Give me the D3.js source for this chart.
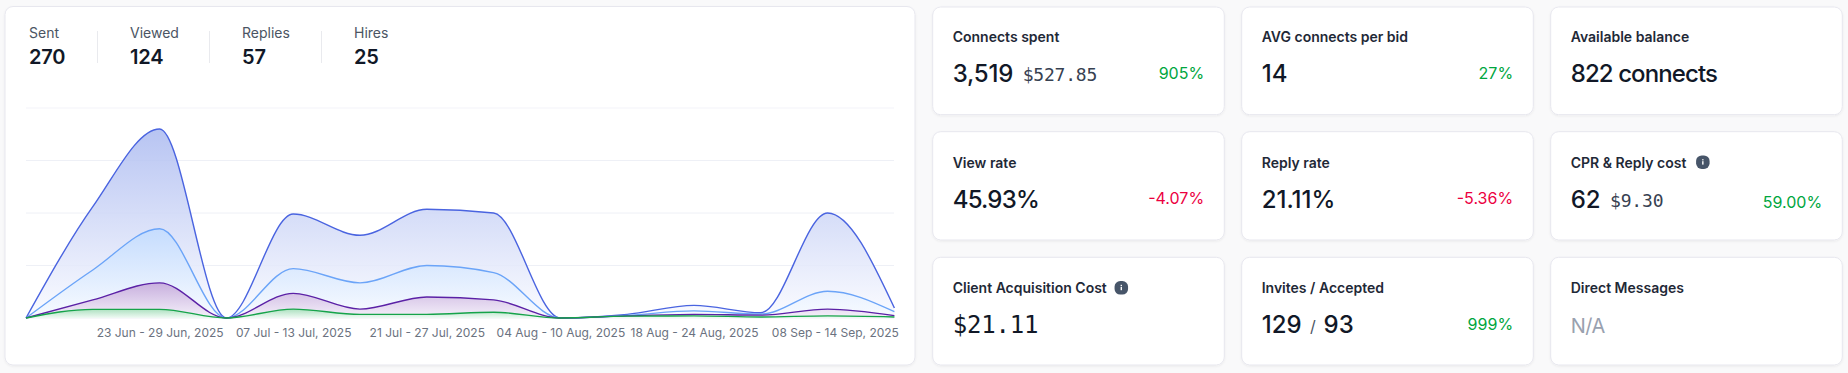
<!DOCTYPE html>
<html><head><meta charset="utf-8">
<script src="https://cdn.jsdelivr.net/npm/d3@7"></script>
<style>
html,body{margin:0;padding:0;background:#f9f9fa;overflow:hidden}
svg{display:block}
text{font-family:Inter,"Noto Sans",sans-serif}
.mono{font-family:"DejaVu Sans Mono",monospace}
</style></head><body><svg id="c" width="1848" height="373"></svg>
<script>
const weeks=["09 Jun - 15 Jun, 2025","16 Jun - 22 Jun, 2025","23 Jun - 29 Jun, 2025","30 Jun - 06 Jul, 2025","07 Jul - 13 Jul, 2025","14 Jul - 20 Jul, 2025","21 Jul - 27 Jul, 2025","28 Jul - 03 Aug, 2025","04 Aug - 10 Aug, 2025","11 Aug - 17 Aug, 2025","18 Aug - 24 Aug, 2025","25 Aug - 31 Aug, 2025","01 Sep - 07 Sep, 2025","08 Sep - 14 Sep, 2025"];
const tickWeeks=[weeks[2],weeks[4],weeks[6],weeks[8],weeks[10],weeks[13]];
const yTicks=[0,20,40,60,80];
const sent=[0,42.4,72,0,39.6,31.5,41.4,40,0,1.4,4.8,2,40,3.8];
const viewed=[0,18.3,34,0,18.8,13.4,20,17.3,0,1,2.7,1.5,10.2,2.4];
const replies=[0,6.9,13.4,0,9.4,3.4,8,6.9,0,0.8,1.4,1.1,3.4,0.9];
const hires=[0,3.3,3.3,0,3.4,1.4,1.4,2.2,0,0.7,0.8,0.4,0.8,0.4];
const seriesNames=["Sent","Viewed","Replies","Hires"];
const seriesTotals=["270","124","57","25"];
const seriesValues=[sent,viewed,replies,hires];
const seriesColors=["#4a64e0","#6ba4f8","#5b21a6","#16a34a"];
const fillTop=["#abbaf0","#c4dcfe","#c6acdc","#a8e0bc"];
const fillBottom=["#fafbff","#f8fbff","#f5f0fa","#f0faf4"];
const fillOpacity=[0.85,0.95,0.95,0.95];

const titles=["Connects spent","AVG connects per bid","Available balance","View rate","Reply rate","CPR & Reply cost","Client Acquisition Cost","Invites / Accepted","Direct Messages"];
const mainValues=["3,519","14","822 connects","45.93%","21.11%","62","$21.11","129","N/A"];
const valueTracking=[-0.2,0,-0.9,-0.8,0,0,-0.2,0,-0.5];
const subValues=["$527.85","","","","","$9.30","","",""];
const secondValues=["","","","","","","","93",""];
const deltas=["905%","27%","","-4.07%","-5.36%","59.00%","","999%",""];
const infoGaps=[0,0,0,0,0,16.5,14.5,0,0];

const svg=d3.select("#c");
const defs=svg.append("defs");
const sh=defs.append("filter").attr("id","sh").attr("x","-5%").attr("y","-5%").attr("width","110%").attr("height","115%");
sh.append("feDropShadow").attr("dx",0).attr("dy",1).attr("stdDeviation",1).attr("flood-color","#000").attr("flood-opacity",0.06);

function card(x,y,w,h){svg.append("rect").attr("x",x).attr("y",y).attr("width",w).attr("height",h).attr("rx",8)
 .attr("fill","#fff").attr("stroke","#e7e7ee").attr("stroke-width",1).attr("filter","url(#sh)");}

// main card
card(5,6.5,910,358.5);
const statX=[29,130,242,354], sepX=[97.5,209.5,321.5];
sepX.forEach(x=>svg.append("line").attr("x1",x).attr("x2",x).attr("y1",31).attr("y2",63).attr("stroke","#e9eaee"));
seriesNames.forEach((n,i)=>{
 svg.append("text").attr("x",statX[i]).attr("y",38).attr("font-size",14).attr("fill","#4b5563").text(n);
 svg.append("text").attr("x",statX[i]).attr("y",64).attr("font-size",20).attr("font-weight",600).attr("letter-spacing",-0.2).attr("fill","#111827").text(seriesTotals[i]);
});

// chart
const x=d3.scalePoint().domain(weeks).range([26,894.4]);
const y=d3.scaleLinear().domain([0,80]).range([318,108]);
svg.append("g").selectAll("line").data(yTicks).join("line")
 .attr("x1",26).attr("x2",894).attr("y1",d=>y(d)).attr("y2",d=>y(d))
 .attr("stroke",d=>d===80?"#f7f7fb":"#eef0f6").attr("stroke-width",d=>d===80?1.6:1);
const curve=d3.curveMonotoneX;
const area=d3.area().x((d,i)=>x(weeks[i])).y0(y(0)).y1(d=>y(d)).curve(curve);
const line=d3.line().x((d,i)=>x(weeks[i])).y(d=>y(d)).curve(curve);
seriesValues.forEach((vals,i)=>{
 const g=defs.append("linearGradient").attr("id","g"+i).attr("x1",0).attr("x2",0).attr("y1",0).attr("y2",1);
 g.append("stop").attr("offset",0).attr("stop-color",fillTop[i]);
 g.append("stop").attr("offset",1).attr("stop-color",fillBottom[i]);
 svg.append("path").attr("d",area(vals)).attr("fill",`url(#g${i})`).attr("fill-opacity",fillOpacity[i]);
});
seriesValues.forEach((vals,i)=>{
 svg.append("path").attr("d",line(vals)).attr("fill","none").attr("stroke",seriesColors[i]).attr("stroke-width",1.4);
});
const ax=svg.append("g").attr("transform","translate(0,318)")
 .call(d3.axisBottom(x).tickValues(tickWeeks).tickSize(0).tickPadding(8));
ax.select(".domain").remove();
ax.selectAll("text").attr("font-family","Inter").attr("font-size",12).attr("fill","#6b7280").attr("dy",0).attr("y",18.5);
ax.selectAll("g.tick").filter(d=>d===weeks[13]).select("text").attr("text-anchor","end").attr("dx",4);

// KPI cards
const colX=[932.7,1241.7,1550.7], rowY=[7,131.7,257.3];
titles.forEach((t,i)=>{
 const cx=colX[i%3], ry=rowY[Math.floor(i/3)], L=cx+20, R=cx+271.4;
 const off=i>=3&&i<6?0.6:0;
 card(cx,ry,291.6,i>=3&&i<6?108.3:107.7);
 const tt=svg.append("text").attr("x",L).attr("y",ry+35.3+off).attr("font-size",14).attr("font-weight",600).attr("fill","#1f2937").text(t);
 if(infoGaps[i]){
  const e=L+tt.node().getComputedTextLength()+infoGaps[i], cy=ry+30.5;
  svg.append("rect").attr("x",e-6.75).attr("y",cy-6.75).attr("width",13.5).attr("height",13.5).attr("rx",5.6).attr("fill","#475569");
  svg.append("rect").attr("x",e-0.7).attr("y",cy-1).attr("width",1.4).attr("height",3.4).attr("fill","#fff");
  svg.append("rect").attr("x",e-0.7).attr("y",cy-3).attr("width",1.4).attr("height",1.2).attr("fill","#fff");
 }
 const base=ry+75.3+off;
 const isMono=t==="Client Acquisition Cost", isNA=mainValues[i]==="N/A";
 const mv=svg.append("text").attr("x",L).attr("y",base).attr("font-size",isNA?20:24).attr("font-weight",isNA?400:500)
   .attr("letter-spacing",valueTracking[i]).attr("fill",isNA?"#99a1af":"#111827").classed("mono",isMono).text(mainValues[i]);
 const mw=mv.node().getComputedTextLength();
 if(subValues[i]) svg.append("text").classed("mono",true).attr("x",L+mw+9.5).attr("y",base-1).attr("font-size",18).attr("letter-spacing",-0.2).attr("fill","#374151").text(subValues[i]);
 if(secondValues[i]){
  svg.append("text").attr("x",L+mw+8.5).attr("y",base-1).attr("font-size",16).attr("fill","#4b5563").text("/");
  svg.append("text").attr("x",L+mw+22).attr("y",base).attr("font-size",24).attr("font-weight",500).attr("fill","#111827").text(secondValues[i]);
 }
 if(deltas[i]){
  const dy=i===5?ry+76.6:ry+72.4;
  svg.append("text").attr("x",R).attr("y",dy).attr("text-anchor","end").attr("font-size",16)
   .attr("fill",deltas[i][0]==="-"?"#ec003f":"#00a63e").text(deltas[i]);
 }
});
</script></body></html>
